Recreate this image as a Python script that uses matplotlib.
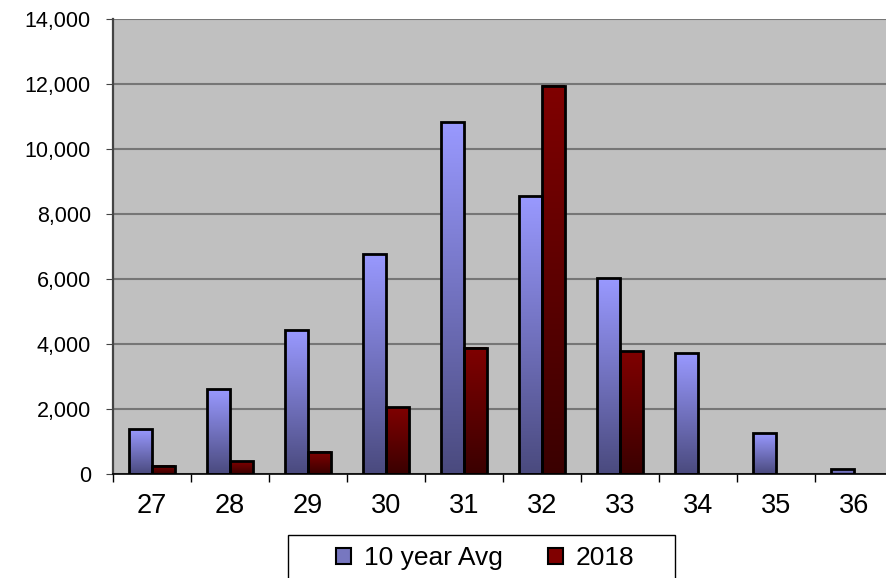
import numpy as np
import matplotlib.pyplot as plt
from matplotlib.colors import LinearSegmentedColormap
from matplotlib.patches import Patch, Rectangle
from matplotlib.ticker import FuncFormatter, MultipleLocator

plt.rcParams['font.family'] = ['Liberation Sans', 'DejaVu Sans']

weeks = ['27', '28', '29', '30', '31', '32', '33', '34', '35', '36']
avg10 = [1380, 2610, 4430, 6770, 10830, 8550, 6030, 3720, 1260, 150]
y2018 = [250, 400, 680, 2060, 3880, 11940, 3780, 0, 0, 0]

blue_cm = LinearSegmentedColormap.from_list('b', ['#4a4a7e', '#9999ff'])
red_cm = LinearSegmentedColormap.from_list('r', ['#3a0000', '#800000'])
grad = np.linspace(0, 1, 256).reshape(-1, 1)

W, H = 886, 578
fig = plt.figure(figsize=(W/100, H/100), dpi=100)
ax = fig.add_axes([113/W, 1 - 474/H, 780/W, 455/H])
ax.set_facecolor('#c0c0c0')

x = np.arange(len(weeks))
w = 0.29


def gbar(xc, h, cmap):
    if h <= 0:
        return
    ax.imshow(grad, extent=[xc - w/2, xc + w/2, 0, h], origin='lower',
              aspect='auto', cmap=cmap, zorder=2)
    ax.add_patch(Rectangle((xc - w/2, 0), w, h, fill=False,
                           edgecolor='black', lw=2, zorder=3))


for i in range(len(weeks)):
    gbar(x[i] - w/2, avg10[i], blue_cm)
    gbar(x[i] + w/2, y2018[i], red_cm)

ax.set_xlim(-0.5, len(weeks) - 0.5)
ax.set_ylim(0, 14000)
ax.yaxis.set_major_locator(MultipleLocator(2000))
ax.yaxis.set_major_formatter(FuncFormatter(lambda v, p: f'{int(v):,}'))
ax.grid(axis='y', color='#767676', lw=1.5, zorder=1)
ax.set_axisbelow(True)

ax.set_xticks(x)
ax.set_xticklabels(weeks, fontsize=19.5)
ax.set_xticks(np.arange(-0.5, len(weeks)), minor=True)
ax.tick_params(axis='x', which='major', length=0, pad=14)
ax.tick_params(axis='x', which='minor', length=6, width=1, color='black')
ax.tick_params(axis='y', labelsize=15.5, length=5, color='#444444', pad=11)

for s in ['top', 'right']:
    ax.spines[s].set_visible(False)
ax.spines['left'].set_color('#444444')
ax.spines['left'].set_linewidth(1.6)
ax.spines['bottom'].set_color('black')
ax.spines['bottom'].set_linewidth(1.2)

# legend box (extends past the bottom edge like the original)
fig.patches.append(Rectangle((288/W, 1 - 620/H), 387/W, 85/H,
                             transform=fig.transFigure, facecolor='white',
                             edgecolor='black', lw=1, zorder=5))
handles = [Patch(facecolor='#7777c0', edgecolor='black', lw=1.5, label='10 year Avg'),
           Patch(facecolor='#800000', edgecolor='black', lw=1.5, label='2018')]
leg = fig.legend(handles=handles, loc='center', ncol=2,
                 bbox_to_anchor=(485/W, 1 - 558/H), fontsize=19,
                 frameon=False, handlelength=0.57, handleheight=0.57,
                 handletextpad=0.5, columnspacing=1.7, borderpad=0)
leg.set_zorder(6)

fig.savefig('out.png', dpi=100, facecolor='white')
